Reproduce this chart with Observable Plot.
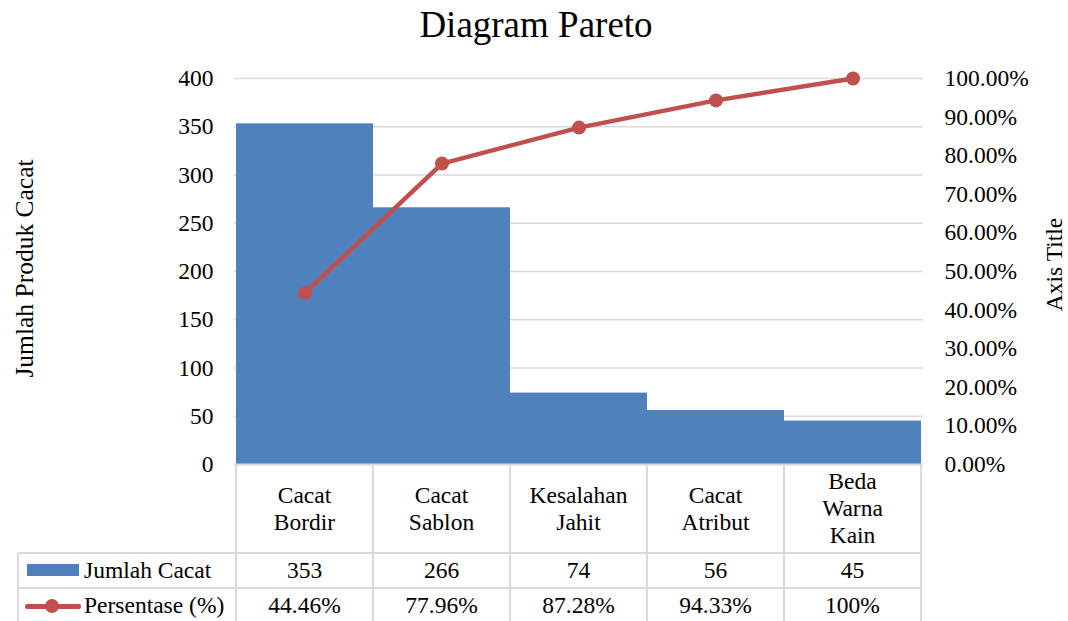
<!DOCTYPE html>
<html><head><meta charset="utf-8">
<script src="https://cdn.jsdelivr.net/npm/d3@7"></script>
<script src="https://cdn.jsdelivr.net/npm/@observablehq/plot@0.6"></script>
<style>
body{margin:0;background:#fff;}
#wrap{position:relative;width:1068px;height:621px;overflow:hidden;font-family:"Liberation Serif","Times New Roman",serif;color:#000;}
#title{height:50px;line-height:50px;text-align:center;font-size:37px;padding-left:4px;}
#wrap svg{display:block;}
.cell{position:absolute;display:flex;flex-direction:column;align-items:center;justify-content:center;text-align:center;font-size:23.5px;line-height:27px;white-space:nowrap;}
.lg{position:absolute;font-size:23.5px;line-height:35px;white-space:nowrap;}
.ln{position:absolute;background:#d9d9d9;}
</style></head><body><div id="wrap"><div id="title">Diagram Pareto</div></div>
<script>
// ---- data ----
const categories = ["Cacat Bordir", "Cacat Sablon", "Kesalahan Jahit", "Cacat Atribut", "Beda Warna Kain"];
const categoryLines = [["Cacat", "Bordir"], ["Cacat", "Sablon"], ["Kesalahan", "Jahit"], ["Cacat", "Atribut"], ["Beda", "Warna", "Kain"]];
const jumlahCacat = [353, 266, 74, 56, 45];
const persentase = [44.46, 77.96, 87.28, 94.33, 100];
const persentaseLabels = ["44.46%", "77.96%", "87.28%", "94.33%", "100%"];
const leftTicks = [0, 50, 100, 150, 200, 250, 300, 350, 400];
const rightTicks = [0, 10, 20, 30, 40, 50, 60, 70, 80, 90, 100];
const seriesNames = ["Jumlah Cacat", "Persentase (%)"];
const leftTitle = "Jumlah Produk Cacat";
const rightTitle = "Axis Title";

const BAR = "#4f81bd", LINE = "#c0504d", GRID = "#d9d9d9";
const FS = 23.5;
const ratio = 400 / 100; // percent -> left-axis units

const data = categories.map((c, i) => ({cat: c, count: jumlahCacat[i], pct: persentase[i]}));

const chart = Plot.plot({
  width: 1068,
  height: 432,
  marginTop: 28,
  marginBottom: 18,
  marginLeft: 234,
  marginRight: 145,
  style: {fontFamily: "'Liberation Serif','Times New Roman',serif", fontSize: FS + "px", color: "#000", background: "#fff"},
  x: {domain: categories, padding: 0, axis: null},
  y: {domain: [0, 400], axis: null},
  marks: [
    Plot.gridY(leftTicks, {stroke: GRID, strokeOpacity: 1, strokeWidth: 1.5}),
    Plot.barY(data, {x: "cat", y: "count", fill: BAR}),
    Plot.ruleY([0], {stroke: GRID, strokeWidth: 2}),
    Plot.axisY(leftTicks, {anchor: "left", tickSize: 0, tickPadding: 21, label: null, fontSize: FS}),
    Plot.axisY(rightTicks.map(p => p * ratio), {anchor: "right", tickSize: 0, tickPadding: 21, label: null, fontSize: FS,
      tickFormat: v => (v / ratio).toFixed(2) + "%"}),
    Plot.line(data, {x: "cat", y: d => d.pct * ratio, stroke: LINE, strokeWidth: 4.5}),
    Plot.dot(data, {x: "cat", y: d => d.pct * ratio, r: 7, fill: LINE}),
    Plot.text([leftTitle], {frameAnchor: "left", textAnchor: "middle", rotate: -90, dx: -210, dy: -3, fontSize: 25.5, text: d => d}),
    Plot.text([rightTitle], {frameAnchor: "right", textAnchor: "middle", rotate: -90, dx: 131, dy: -7, fontSize: 23.5, text: d => d})
  ]
});
const wrap = document.getElementById("wrap");
wrap.appendChild(chart);

// ---- data table under the chart, aligned to the x scale ----
const xs = chart.scale("x");
const bw = xs.bandwidth;
const starts = categories.map(c => xs.apply(c));
const end = starts[starts.length - 1] + bw;
const T0 = 464, R1 = 553, R2 = 588, B = 623, LEFT = 18;

function add(cls, css, html) {
  const d = document.createElement("div");
  d.className = cls;
  Object.assign(d.style, css);
  if (html != null) d.innerHTML = html;
  wrap.appendChild(d);
  return d;
}
[...starts, end].forEach(x => add("ln", {left: (x - 1) + "px", top: T0 + "px", width: "2px", height: (B - T0) + "px"}));
add("ln", {left: (LEFT - 1) + "px", top: R1 + "px", width: "2px", height: (B - R1) + "px"});
[R1, R2].forEach(y => add("ln", {left: LEFT + "px", top: (y - 1) + "px", width: (end - LEFT) + "px", height: "2px"}));

categories.forEach((c, i) => {
  add("cell", {left: starts[i] + "px", top: T0 + "px", width: bw + "px", height: (R1 - T0) + "px"},
    categoryLines[i].map(s => `<div>${s}</div>`).join(""));
  add("cell", {left: starts[i] + "px", top: R1 + "px", width: bw + "px", height: (R2 - R1) + "px"}, String(jumlahCacat[i]));
  add("cell", {left: starts[i] + "px", top: R2 + "px", width: bw + "px", height: (B - R2) + "px"}, persentaseLabels[i]);
});
// legend keys
add("", {position: "absolute", left: "27px", top: "564px", width: "52px", height: "12px", background: BAR});
add("", {position: "absolute", left: "25px", top: "604px", width: "56px", height: "4.5px", background: LINE, borderRadius: "2px"});
add("", {position: "absolute", left: "45px", top: "599px", width: "14px", height: "14px", background: LINE, borderRadius: "50%"});
add("lg", {left: "84px", top: R1 + "px", height: (R2 - R1) + "px"}, seriesNames[0]);
add("lg", {left: "84px", top: R2 + "px", height: (B - R2) + "px"}, seriesNames[1]);
</script></body></html>
